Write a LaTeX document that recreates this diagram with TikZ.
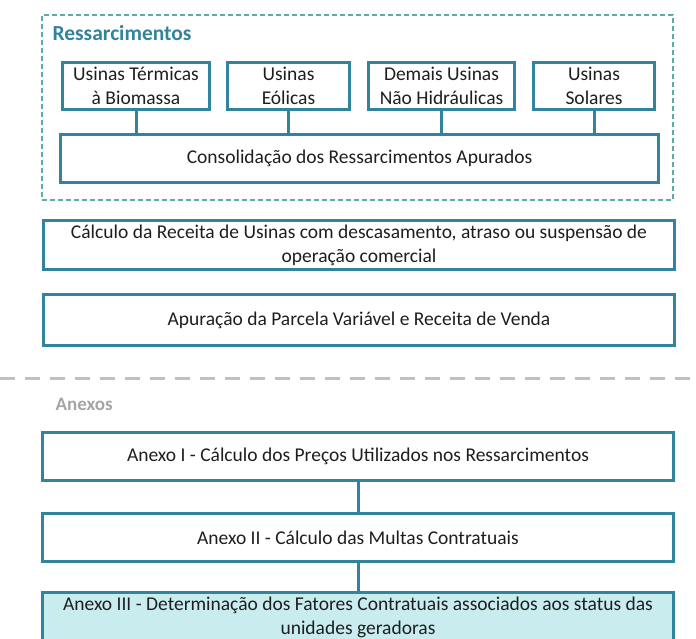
\documentclass[tikz,border=0pt]{standalone}
\usepackage{fontspec}
\setmainfont{Carlito}
\definecolor{tealb}{HTML}{31849B}
\definecolor{framec}{HTML}{62A9AE}
\definecolor{sepgray}{HTML}{C0C0C0}
\definecolor{anxgray}{HTML}{A5A5A5}
\definecolor{txt}{HTML}{1E1E1E}
\definecolor{lightcyan}{HTML}{C9EDEF}

\begin{document}
\begin{tikzpicture}[x=1pt,y=-1pt,
    box/.style={draw=tealb,line width=3pt,rectangle,inner sep=0pt,align=center,
      text=txt,font=\fontsize{19.5}{24}\selectfont},
    link/.style={draw=tealb,line width=3pt},
    frame/.style={draw=framec,line width=1.2pt,dash pattern=on 5pt off 3pt,
      rectangle,inner sep=0pt},
    sep/.style={draw=sepgray,line width=3pt,dash pattern=on 15pt off 10pt}]
  \clip (0,0) rectangle (696,639);

  % Ressarcimentos
  \node[frame,minimum width=631pt,minimum height=185pt] (ress) at (357.5,107.5) {};
  \node[anchor=west,text=tealb,font=\fontsize{21.5}{24}\selectfont\bfseries] (ressT) at (49,33) {Ressarcimentos};
  \node[box,minimum width=147pt,minimum height=47pt] (bio) at (136,86) {Usinas Térmicas\\à Biomassa};
  \node[box,minimum width=122pt,minimum height=47pt] (eol) at (288.5,86) {Usinas\\Eólicas};
  \node[box,minimum width=146pt,minimum height=47pt] (dem) at (441.5,86) {Demais Usinas\\Não Hidráulicas};
  \node[box,minimum width=121pt,minimum height=47pt] (sol) at (594,86) {Usinas\\Solares};
  \node[box,minimum width=598pt,minimum height=48pt] (cons) at (359.5,158.5) {Consolidação dos Ressarcimentos Apurados};
  \foreach \n in {bio,eol,dem,sol}
    \draw[link] (\n) -- (\n |- cons.north);

  \node[box,minimum width=631pt,minimum height=49pt] (calc) at (359,245) {Cálculo da Receita de Usinas com descasamento, atraso ou suspensão de\\operação comercial};
  \node[box,minimum width=631pt,minimum height=51pt] (apur) at (359,320) {Apuração da Parcela Variável e Receita de Venda};

  % separador
  \coordinate (sepL) at (0,378);
  \coordinate (sepR) at (696,378);
  \draw[sep] (sepL) -- (sepR);

  % Anexos
  \node[anchor=west,text=anxgray,font=\fontsize{19}{22}\selectfont\bfseries] (anxT) at (52,404) {Anexos};
  \node[box,minimum width=631pt,minimum height=48pt] (anx1) at (358,456.5) {Anexo I - Cálculo dos Preços Utilizados nos Ressarcimentos};
  \node[box,minimum width=631pt,minimum height=48pt] (anx2) at (358,537.5) {Anexo II - Cálculo das Multas Contratuais};
  \node[box,fill=lightcyan,minimum width=631pt,minimum height=49pt] (anx3) at (358,617) {Anexo III - Determinação dos Fatores Contratuais associados aos status das\\unidades geradoras};
  \draw[link] (anx1) -- (anx2);
  \draw[link] (anx2) -- (anx3);
\end{tikzpicture}
\end{document}
